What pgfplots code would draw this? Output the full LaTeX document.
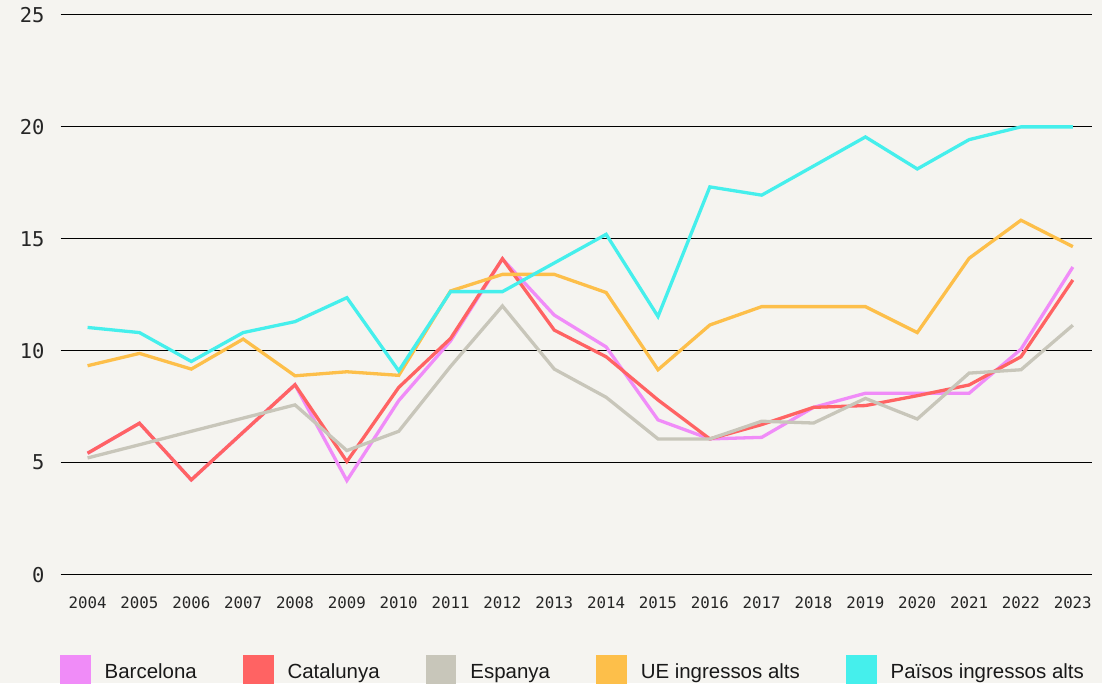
\documentclass[border=0pt]{standalone}
\usepackage{pgfplots}
\pgfplotsset{compat=1.18}
\usepackage{fontspec}
\setmainfont{Liberation Sans}
\newfontfamily\monofont{DejaVu Sans Mono}
\definecolor{bgc}{RGB}{245,244,240}
\definecolor{pinkc}{RGB}{240,140,248}
\definecolor{redc}{RGB}{255,99,99}
\definecolor{grayc}{RGB}{200,198,186}
\definecolor{orangec}{RGB}{253,191,74}
\definecolor{cyanc}{RGB}{69,239,236}
\begin{document}
\pagecolor{bgc}
\begin{tikzpicture}
\begin{axis}[
  scale only axis, width=1034pt, height=561pt,
  xmin=2003.48, xmax=2023.37, ymin=0, ymax=25,
  axis line style={draw=none},
  xtick={2004,...,2023}, ytick={0,5,...,25},
  major tick length=0pt,
  ymajorgrids, grid style={black, line width=1pt},
  /pgf/number format/assume math mode=true,
  /pgf/number format/1000 sep={},
  xticklabel style={font=\monofont\fontsize{15.8}{18}\selectfont, inner sep=0pt, anchor=north, yshift=-22pt, text=black!85},
  yticklabel style={font=\monofont\fontsize{20.5}{24}\selectfont, inner sep=0pt, anchor=east, xshift=-16pt, text=black!85},
  clip=false,
  every axis plot/.append style={line width=3.3pt},
  legend columns=5,
  legend style={at={(0,0)}, anchor=north west, xshift=-1pt, yshift=-80pt, draw=none, fill=none, inner sep=0pt,
    font=\fontsize{20.5}{24}\selectfont, text=black!90, nodes={inner sep=0pt},
    /tikz/every odd column/.style={column sep=14pt},
    /tikz/every even column/.style={column sep=46pt}},
  legend image code/.code={\fill[#1, draw=none] (0pt,-12.5pt) rectangle (31pt,17.5pt);},
]
\addplot[color=pinkc] coordinates {
(2004,5.42) (2005,6.76) (2006,4.23) (2007,6.36) (2008,8.48) (2009,4.2) (2010,7.77) (2011,10.44) (2012,14.1) (2013,11.59)
(2014,10.17) (2015,6.91) (2016,6.06) (2017,6.13) (2018,7.47) (2019,8.1) (2020,8.1) (2021,8.1) (2022,10.07) (2023,13.74)};
\addlegendentry{Barcelona}
\addplot[color=redc] coordinates {
(2004,5.42) (2005,6.76) (2006,4.23) (2007,6.36) (2008,8.48) (2009,5.05) (2010,8.36) (2011,10.55) (2012,14.11) (2013,10.92)
(2014,9.73) (2015,7.8) (2016,6.06) (2017,6.7) (2018,7.47) (2019,7.55) (2020,7.99) (2021,8.47) (2022,9.73) (2023,13.16)};
\addlegendentry{Catalunya}
\addplot[color=grayc] coordinates {
(2004,5.21) (2005,5.8) (2006,6.4) (2007,6.99) (2008,7.58) (2009,5.54) (2010,6.4) (2011,9.3) (2012,12.0) (2013,9.18)
(2014,7.92) (2015,6.06) (2016,6.06) (2017,6.85) (2018,6.77) (2019,7.87) (2020,6.95) (2021,9.0) (2022,9.15) (2023,11.14)};
\addlegendentry{Espanya}
\addplot[color=orangec] coordinates {
(2004,9.33) (2005,9.88) (2006,9.18) (2007,10.52) (2008,8.88) (2009,9.06) (2010,8.9) (2011,12.67) (2012,13.41) (2013,13.41)
(2014,12.6) (2015,9.15) (2016,11.15) (2017,11.97) (2018,11.97) (2019,11.97) (2020,10.81) (2021,14.13) (2022,15.83) (2023,14.65)};
\addlegendentry{UE ingressos alts}
\addplot[color=cyanc] coordinates {
(2004,11.04) (2005,10.81) (2006,9.52) (2007,10.81) (2008,11.3) (2009,12.37) (2010,9.1) (2011,12.64) (2012,12.64) (2013,13.92)
(2014,15.2) (2015,11.53) (2016,17.32) (2017,16.95) (2018,18.25) (2019,19.55) (2020,18.12) (2021,19.43) (2022,20.0) (2023,20.0)};
\addlegendentry{Països ingressos alts}
\end{axis}
\pgfresetboundingbox
\path ([shift={(-58pt,-109pt)}]current axis.south west) rectangle ([shift={(10pt,15pt)}]current axis.north east);
\end{tikzpicture}
\end{document}
